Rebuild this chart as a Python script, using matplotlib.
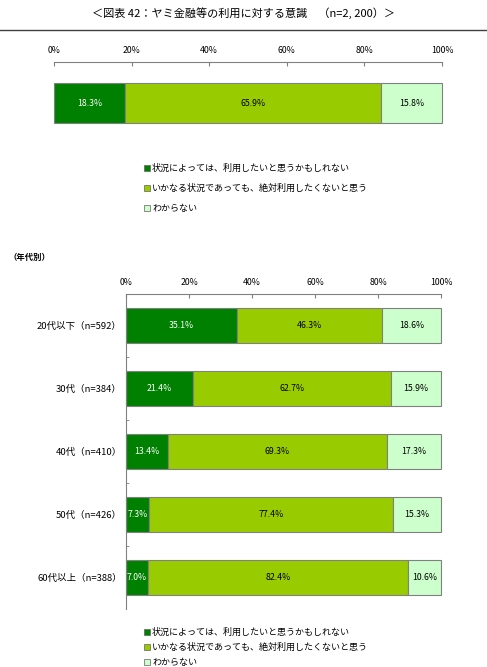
import matplotlib
matplotlib.use("Agg")
import matplotlib.pyplot as plt
from matplotlib.patches import Patch
from matplotlib.lines import Line2D
import numpy as np

plt.rcParams['font.family'] = ['Noto Sans CJK JP', 'DejaVu Sans']

W, H = 487, 667

title = "＜図表 42：ヤミ金融等の利用に対する意識　（n=2, 200）＞"
series_names = ["状況によっては、利用したいと思うかもしれない",
                "いかなる状況であっても、絶対利用したくないと思う",
                "わからない"]
colors = ["#008000", "#99CC00", "#CCFFCC"]
text_colors = ["white", "black", "black"]

total_values = [18.3, 65.9, 15.8]

age_labels = ["20代以下（n=592）", "30代（n=384）", "40代（n=410）",
              "50代（n=426）", "60代以上（n=388）"]
age_maybe = [35.1, 21.4, 13.4, 7.3, 7.0]
age_never = [46.3, 62.7, 69.3, 77.4, 82.4]
age_unknown = [18.6, 15.9, 17.3, 15.3, 10.6]

xticks = [0, 20, 40, 60, 80, 100]
xticklabels = ["0%", "20%", "40%", "60%", "80%", "100%"]


def px_axes(fig, x0, y0, x1, y1):
    return fig.add_axes([x0 / W, 1 - y1 / H, (x1 - x0) / W, (y1 - y0) / H])


def style_axes(ax, show_left):
    ax.set_xlim(0, 100)
    ax.xaxis.tick_top()
    ax.set_xticks(xticks)
    ax.set_xticklabels(xticklabels, fontsize=6.3)
    ax.tick_params(axis="x", direction="in", length=3, color="#808080", pad=5)
    for s in ["right", "bottom"]:
        ax.spines[s].set_visible(False)
    ax.spines["top"].set_color("#808080")
    ax.spines["left"].set_color("#808080")
    ax.spines["left"].set_visible(show_left)


def draw_stack(ax, ypos, rows, height):
    left = np.zeros(len(ypos))
    for vals, c, tc in zip(rows, colors, text_colors):
        vals = np.array(vals)
        bars = ax.barh(ypos, vals, left=left, height=height, color=c,
                       edgecolor="#808080", linewidth=0.8)
        for b in bars:
            b.set_clip_on(False)
        for y, l, v in zip(ypos, left, vals):
            ax.text(l + v / 2, y, f"{v:.1f}%", ha="center", va="center",
                    fontsize=6.3, color=tc)
        left = left + vals


fig = plt.figure(figsize=(W / 100, H / 100), dpi=100)
fig.text(0.5, 1 - 13 / H, title, ha="center", va="center", fontsize=8)
fig.add_artist(Line2D([0, 1], [1 - 30 / H, 1 - 30 / H], color="#404040",
                      linewidth=1, transform=fig.transFigure))

handles = [Patch(facecolor=c, edgecolor="#606060", linewidth=0.5) for c in colors]

# overall
ax1 = px_axes(fig, 54, 62, 442, 144)
style_axes(ax1, show_left=False)
draw_stack(ax1, [0], [[v] for v in total_values], 0.49)
ax1.set_ylim(0.5, -0.5)
ax1.set_yticks([])
ax1.legend(handles, series_names, loc="upper left", frameon=False,
           bbox_to_anchor=(144 / W, 1 - 164 / H), bbox_transform=fig.transFigure,
           fontsize=6.5, handlelength=0.65, handleheight=0.65, handletextpad=0.25,
           labelspacing=1.2, borderaxespad=0, borderpad=0)

fig.text(8 / W, 1 - 257 / H, "（年代別）", ha="left", va="center",
         fontsize=6, fontweight="bold")

# by age
ax2 = px_axes(fig, 126, 294, 441, 609)
style_axes(ax2, show_left=True)
ypos = np.arange(len(age_labels))
draw_stack(ax2, ypos, [age_maybe, age_never, age_unknown], 0.57)
ax2.set_ylim(len(age_labels) - 0.5, -0.5)
ax2.set_yticks(ypos)
ax2.set_yticklabels(age_labels, fontsize=6.8)
ax2.tick_params(axis="y", which="major", length=0, pad=3)
ax2.set_yticks(np.arange(len(age_labels) - 1) + 0.5, minor=True)
ax2.tick_params(axis="y", which="minor", direction="in", length=2, color="#808080")
ax2.legend(handles, series_names, loc="upper left", frameon=False,
           bbox_to_anchor=(144 / W, 1 - 627.5 / H), bbox_transform=fig.transFigure,
           fontsize=6.5, handlelength=0.65, handleheight=0.65, handletextpad=0.25,
           labelspacing=0.68, borderaxespad=0, borderpad=0)

fig.savefig("out.png", dpi=100)
